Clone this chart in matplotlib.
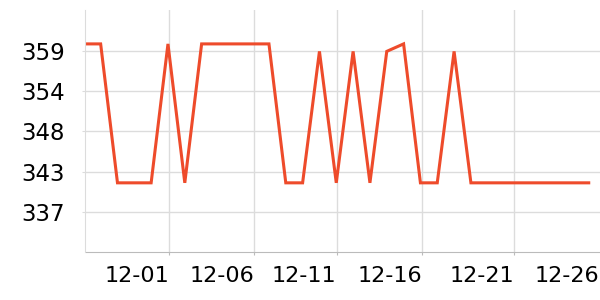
import matplotlib
matplotlib.use("Agg")
import matplotlib.pyplot as plt
import matplotlib.dates as mdates
import numpy as np
import pandas as pd

# daily readings, 11-26 .. 12-26
dates = pd.date_range("2023-11-26", periods=31, freq="D")
values = [359.8, 359.8, 341.2, 341.2, 341.2, 359.8, 341.2, 359.8, 359.8, 359.8,
          359.8, 359.8, 341.2, 341.2, 358.8, 341.2, 358.8, 341.2, 358.8, 359.8,
          341.2, 341.2, 358.8, 341.2, 341.2, 341.2, 341.2, 341.2, 341.2, 341.2,
          341.2]

# axis ticks as they sit in the original (offsets in days from 11-26)
x_tick_offsets = [5.08, 10.13, 15.02, 20.11, 25.58, 30.64]
y_ticks = [337.3, 342.7, 348.1, 353.5, 358.9]
y_range = (331.9, 364.3)

line_color = "#ee4b2b"
grid_color = "#dcdcdc"

fig = plt.figure(figsize=(6, 3), dpi=100)
ax = fig.add_axes([0.1425, 0.159, 0.8575, 0.8067])

ax.plot(dates, values, color=line_color, lw=2.2, solid_joinstyle="miter")

start = dates[0]
ax.set_xlim(start + pd.Timedelta(days=0.1), start + pd.Timedelta(days=30.67))
ax.set_ylim(*y_range)

ax.set_xticks([start + pd.Timedelta(days=d) for d in x_tick_offsets])
ax.xaxis.set_major_formatter(mdates.DateFormatter("%m-%d"))
ax.set_yticks(y_ticks)
ax.yaxis.set_major_formatter(matplotlib.ticker.FormatStrFormatter("%.0f"))

ax.grid(True, color=grid_color, lw=1)
ax.set_axisbelow(True)
for side in ["top", "right"]:
    ax.spines[side].set_visible(False)
ax.spines["left"].set_color(grid_color)
ax.spines["bottom"].set_color("#bbbbbb")

ax.tick_params(axis="x", length=2, color="#bbbbbb", labelsize=16, pad=8)
ax.tick_params(axis="y", length=2, color=grid_color, labelsize=16.5, pad=13)
plt.setp(ax.get_xticklabels(), ha="right")

# the right-most tick sits on the canvas edge, no gridline shows there
ax.get_xgridlines()[-1].set_visible(False)
ax.xaxis.get_major_ticks()[-1].tick1line.set_visible(False)

fig.savefig("out.png", dpi=100)
